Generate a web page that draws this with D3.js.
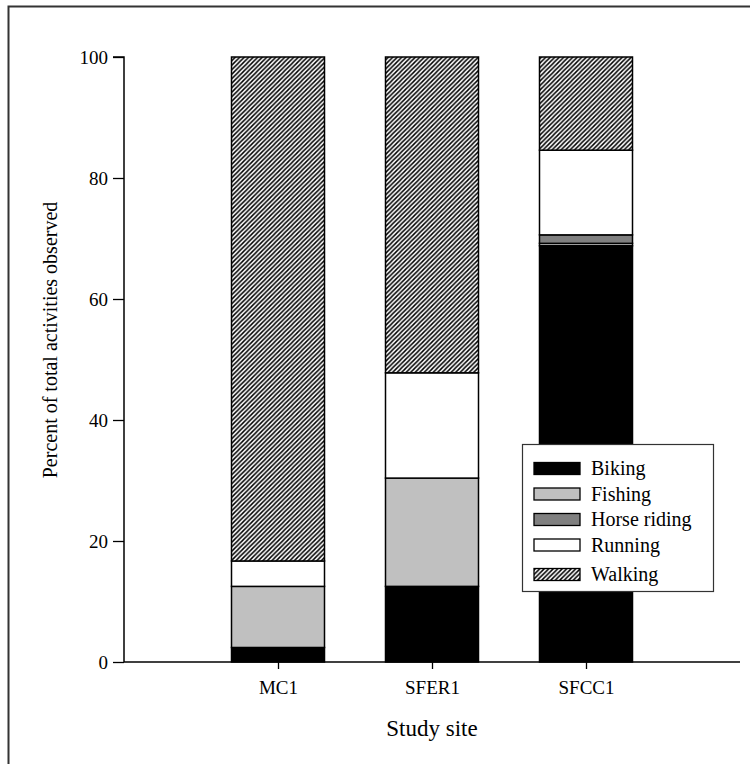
<!DOCTYPE html>
<html>
<head>
    <meta charset="utf-8">
    <script src="https://cdnjs.cloudflare.com/ajax/libs/d3/7.8.5/d3.min.js"></script>
    <style>
        body { margin: 0; background: #fff; }
        svg { display: block; font-family: "Liberation Serif", "Times New Roman", serif; }
    </style>
</head>
<body>
    <svg width="750" height="764"></svg>
    <script>
        // data (percent of activities per site)
        var sites = ["MC1", "SFER1", "SFCC1"]
        var activities = ["Biking", "Fishing", "Horse riding", "Running", "Walking"]
        var biking = [2.4, 12.5, 68.8]
        var fishing = [10.1, 17.9, 0.4]
        var horseRiding = [0, 0, 1.4]
        var running = [4.2, 17.4, 14.0]
        var walking = [83.3, 52.2, 15.4]
        var yTicks = [0, 20, 40, 60, 80, 100]

        var fills = ["#000000", "#c0c0c0", "#808080", "#ffffff", "url(#hatch)"]

        var rows = sites.map((s, i) => ({
            site: s,
            "Biking": biking[i],
            "Fishing": fishing[i],
            "Horse riding": horseRiding[i],
            "Running": running[i],
            "Walking": walking[i]
        }))

        var svg = d3.select("svg")

        // diagonal hatch for walking
        var hp = 4.5
        var pat = svg.append("defs").append("pattern")
            .attr("id", "hatch")
            .attr("patternUnits", "userSpaceOnUse")
            .attr("width", hp).attr("height", hp)
        pat.append("rect").attr("width", hp).attr("height", hp).style("fill", "#fff")
        pat.append("path")
            .attr("d", `M-1,1 L1,-1 M0,${hp} L${hp},0 M${hp - 1},${hp + 1} L${hp + 1},${hp - 1}`)
            .style("stroke", "#000")
            .style("stroke-width", 1.5)

        // outer frame (only top and left edge show in the original)
        svg.append("rect")
            .attr("x", 8.5).attr("y", 6.5)
            .attr("width", 800).attr("height", 800)
            .style("fill", "none")
            .style("stroke", "#333")
            .style("stroke-width", 2)

        var x = d3.scalePoint().domain(sites).range([124, 740]).padding(1)
        var y = d3.scaleLinear().domain([0, 100]).range([662, 57])
        var color = d3.scaleOrdinal().domain(activities).range(fills)
        var barW = 93

        var stacked = d3.stack().keys(activities)(rows)

        svg.append("g")
            .selectAll("g")
            .data(stacked)
            .enter().append("g")
            .style("fill", d => color(d.key))
            .selectAll("rect")
            .data(d => d.filter(p => p[1] - p[0] > 0))
            .enter().append("rect")
            .attr("x", d => x(d.data.site) - barW / 2)
            .attr("y", d => y(d[1]))
            .attr("width", barW)
            .attr("height", d => y(d[0]) - y(d[1]))
            .style("stroke", "#000")
            .style("stroke-width", 1.5)

        // axes
        var yAxis = svg.append("g")
            .attr("transform", "translate(124,0)")
            .call(d3.axisLeft(y).tickValues(yTicks).tickSize(11).tickPadding(5))
        var xAxis = svg.append("g")
            .attr("transform", "translate(0,662)")
            .call(d3.axisBottom(x).tickSize(7).tickPadding(12).tickSizeOuter(0))

        ;[yAxis, xAxis].forEach(a => {
            a.select(".domain").style("stroke", "#000").style("stroke-width", 1.5)
            a.selectAll(".tick line").style("stroke", "#000").style("stroke-width", 1.3)
            a.selectAll(".tick text")
                .style("font-family", "Liberation Serif")
                .style("font-size", "19px")
                .style("fill", "#000")
        })
        yAxis.select(".domain").attr("d", "M0,662V57H-11")
        xAxis.select(".domain").attr("d", "M124,0H740")

        svg.append("text")
            .attr("x", 432).attr("y", 736)
            .style("text-anchor", "middle")
            .style("font-size", "23px")
            .text("Study site")

        svg.append("text")
            .attr("transform", "translate(57,340) rotate(-90)")
            .style("text-anchor", "middle")
            .style("font-size", "20px")
            .text("Percent of total activities observed")

        // legend
        var legend = svg.append("g")
        legend.append("rect")
            .attr("x", 522.5).attr("y", 444.5)
            .attr("width", 191).attr("height", 147)
            .style("fill", "#fff")
            .style("stroke", "#333")
            .style("stroke-width", 1.2)

        var item = legend.selectAll("g.item")
            .data(activities)
            .enter().append("g")
            .attr("class", "item")
            .attr("transform", (d, i) => `translate(534,${468.5 + i * 25.5 + (i === 4 ? 4 : 0)})`)
        item.append("rect")
            .attr("x", 0).attr("y", -6)
            .attr("width", 46).attr("height", 12)
            .style("fill", d => color(d))
            .style("stroke", "#000")
            .style("stroke-width", 1.3)
        item.append("text")
            .attr("x", 57).attr("y", 0)
            .attr("dy", "0.33em")
            .style("font-size", "20px")
            .text(d => d)
    </script>
</body>
</html>
